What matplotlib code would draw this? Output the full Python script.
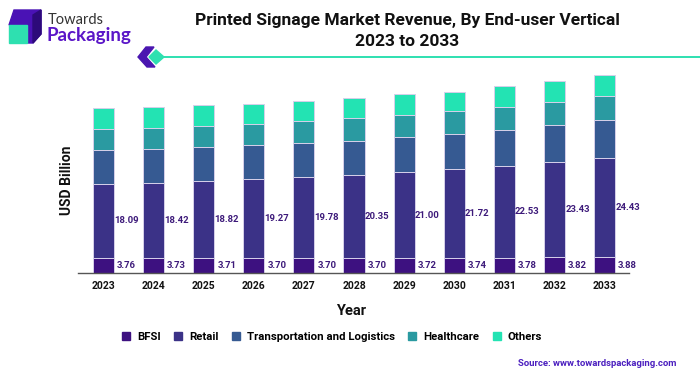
import matplotlib
matplotlib.use("Agg")
import matplotlib.pyplot as plt
from matplotlib.patches import Rectangle, Polygon
from matplotlib.lines import Line2D

years = ["2023", "2024", "2025", "2026", "2027", "2028", "2029", "2030", "2031", "2032", "2033"]
bfsi = [3.76, 3.73, 3.71, 3.70, 3.70, 3.70, 3.72, 3.74, 3.78, 3.82, 3.88]
retail = [18.09, 18.42, 18.82, 19.27, 19.78, 20.35, 21.00, 21.72, 22.53, 23.43, 24.43]
transport = [8.2, 8.25, 8.3, 8.35, 8.3, 8.4, 8.6, 8.65, 8.8, 9.05, 9.1]
healthcare = [5.3, 5.2, 5.3, 5.2, 5.4, 5.5, 5.5, 5.6, 5.6, 5.6, 5.95]
others = [5.1, 5.05, 5.05, 4.9, 4.9, 5.0, 5.0, 4.8, 5.05, 5.15, 5.15]

series_names = ["BFSI", "Retail", "Transportation and Logistics", "Healthcare", "Others"]
colors = ["#3d1180", "#3b3287", "#365a92", "#2a9aa1", "#23e3b3"]

FONT = "Roboto"
W, H = 700, 376
fig = plt.figure(figsize=(W / 100, H / 100), dpi=100)

def fx(px):
    return px / W

def fy(py):
    return 1 - py / H

# axes placement
ax_left, ax_right, ax_bottom, ax_top = 78, 629, 273, 61
ax = fig.add_axes([fx(ax_left), fy(ax_bottom), fx(ax_right - ax_left), (ax_bottom - ax_top) / H])

x = list(range(len(years)))
data = [bfsi, retail, transport, healthcare, others]
bottom = [0.0] * len(years)
for vals, c in zip(data, colors):
    ax.bar(x, vals, width=0.42, bottom=bottom, color=c, edgecolor="#d6d0ea", linewidth=0.7)
    bottom = [b + v for b, v in zip(bottom, vals)]

label_color = "#3d1a7a"
for i in x:
    ax.text(i + 0.46, bfsi[i] / 2, f"{bfsi[i]:.2f}", ha="center", va="center",
            fontsize=6.8, fontweight="bold", color=label_color, family=FONT)
    ax.text(i + 0.46, bfsi[i] + retail[i] / 2, f"{retail[i]:.2f}", ha="center", va="center",
            fontsize=6.8, fontweight="bold", color=label_color, family=FONT)

ax.set_xlim(-0.51, 10.49)
ax.set_ylim(0, 52)
ax.set_xticks(x)
ax.set_xticklabels(years, fontsize=7.5, fontweight="bold", family=FONT, color="#111111")
ax.tick_params(axis="x", length=0, pad=6)
ax.set_yticks([])
for s in ["top", "right", "left"]:
    ax.spines[s].set_visible(False)
ax.spines["bottom"].set_color("#555555")
ax.spines["bottom"].set_linewidth(1.0)

fig.text(fx(351), fy(311), "Year", ha="center", va="center", fontsize=10.5,
         fontweight="bold", family=FONT, color="#111111")
fig.text(fx(67), fy(180), "USD Billion", ha="center", va="center", rotation=90,
         fontsize=10, fontweight="bold", family=FONT, color="#111111")

# title
fig.text(fx(407), fy(21), "Printed Signage Market Revenue, By End-user Vertical",
         ha="center", va="center", fontsize=12.5, fontweight="bold", family=FONT, color="#111111")
fig.text(fx(407), fy(42), "2023 to 2033", ha="center", va="center", fontsize=12.5,
         fontweight="bold", family=FONT, color="#111111")

# decoration line
fig.add_artist(Line2D([fx(160), fx(700)], [fy(57), fy(57)], color="#2ee0b0", linewidth=1.4))
fig.add_artist(Polygon([(fx(146), fy(47)), (fx(154), fy(47)), (fx(146), fy(57)),
                        (fx(155), fy(67)), (fx(147), fy(67)), (fx(138), fy(57))],
                       closed=True, color="#4a16b0"))
fig.add_artist(Polygon([(fx(156), fy(50)), (fx(164), fy(57)), (fx(156), fy(64)), (fx(149), fy(57))],
                       closed=True, color="#2ee0b0"))

# logo
fig.add_artist(Polygon([(fx(9), fy(25)), (fx(14), fy(10)), (fx(41), fy(10)), (fx(41), fy(34)),
                        (fx(33), fy(43)), (fx(27), fy(43)), (fx(27), fy(25))],
                       closed=True, color="#4a12b5"))
fig.add_artist(Polygon([(fx(33), fy(15)), (fx(41), fy(10)), (fx(41), fy(34)), (fx(33), fy(43))],
                       closed=True, color="#2d0a7a"))
fig.add_artist(Rectangle((fx(9), fy(43)), fx(18), (43 - 25) / H, color="#2ee0b0"))
fig.text(fx(48), fy(20), "Towards", ha="left", va="center", fontsize=10.5,
         family="Lato", color="#333333")
fig.text(fx(46), fy(35), "Packaging", ha="left", va="center", fontsize=13.5,
         fontweight="bold", family="Lato", color="#5b16c8")

# legend
handles = [Rectangle((0, 0), 1, 1, color=c) for c in colors]
fig.legend(handles, series_names, loc="center", bbox_to_anchor=(fx(332), fy(337)), ncol=5,
           frameon=False, prop={"family": FONT, "weight": "bold", "size": 8.2},
           handlelength=0.7, handleheight=0.7, handletextpad=0.6, columnspacing=1.2)

fig.text(fx(676), fy(363), "Source: www.towardspackaging.com", ha="right", va="center",
         fontsize=6.8, fontweight="bold", family=FONT, color="#4b1fbf")

fig.savefig("out.png", dpi=100)
